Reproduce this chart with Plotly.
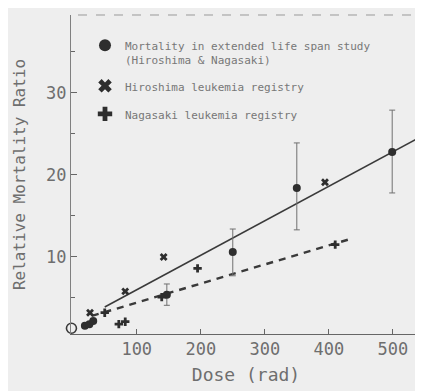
import plotly.graph_objects as go

# ---- data ----
mort_dose = [19, 26, 32, 147, 250, 350, 499]
mort_ratio = [1.6, 1.8, 2.2, 5.4, 10.6, 18.4, 22.8]
mort_err_plus = [0, 0, 0, 1.3, 2.8, 5.5, 5.1]
mort_err_minus = [0, 0, 0, 1.3, 2.9, 5.1, 5.0]

ctrl_dose = [-2]
ctrl_ratio = [1.3]

hiro_dose = [27, 82, 142, 394]
hiro_ratio = [3.2, 5.8, 10.0, 19.1]

naga_dose = [50, 72, 82, 139, 195, 410]
naga_ratio = [3.2, 1.8, 2.1, 5.1, 8.6, 11.5]

solid_dose = [50, 545]
solid_ratio = [3.9, 24.7]

dashed_dose = [30, 430]
dashed_ratio = [2.8, 12.1]

x_ticks = [100, 200, 300, 400, 500]
y_ticks = [10, 20, 30]

ink = "#2e2e2e"
txt = "#6e6e6e"
bg = "#eeeeee"
mono = "DejaVu Sans Mono"

fig = go.Figure()

fig.add_trace(go.Scatter(x=solid_dose, y=solid_ratio, mode="lines",
                         line=dict(color="#3a3a3a", width=1.6), showlegend=False))
fig.add_trace(go.Scatter(x=dashed_dose, y=dashed_ratio, mode="lines",
                         line=dict(color="#3a3a3a", width=2.4, dash="7px,6px"), showlegend=False))

fig.add_trace(go.Scatter(
    x=mort_dose, y=mort_ratio, mode="markers", legendgroup="a",
    name="Mortality in extended life span study<br>(Hiroshima &amp; Nagasaki)",
    marker=dict(symbol="circle", size=8, color=ink),
    error_y=dict(type="data", array=mort_err_plus, arrayminus=mort_err_minus,
                 color="#707070", thickness=1, width=3)))
fig.add_trace(go.Scatter(
    x=hiro_dose, y=hiro_ratio, mode="markers", legendgroup="b",
    name="Hiroshima leukemia registry",
    marker=dict(symbol="x", size=7, color=ink, line=dict(width=0))))
fig.add_trace(go.Scatter(
    x=naga_dose, y=naga_ratio, mode="markers", legendgroup="c",
    name="Nagasaki leukemia registry",
    marker=dict(symbol="cross", size=7, color=ink, line=dict(width=0))))
fig.add_trace(go.Scatter(
    x=ctrl_dose, y=ctrl_ratio, mode="markers", showlegend=False, cliponaxis=False,
    marker=dict(symbol="circle-open", size=10, color="#3a3a3a", line=dict(width=1.6))))

# page body has an 8px margin: shrink figure so plot area lands where the reference has it
fig.update_layout(
    width=415, height=383,
    margin=dict(l=63, r=2, t=7, b=57),
    paper_bgcolor=bg, plot_bgcolor=bg,
    font=dict(family=mono, color=txt),
    legend=dict(x=0.04, y=0.948, xanchor="left", yanchor="top",
                bgcolor="rgba(0,0,0,0)", font=dict(family=mono, size=11, color="#777777"),
                valign="top", itemsizing="constant", tracegroupgap=9),
    xaxis=dict(range=[-2.7, 544], tickvals=x_ticks, ticktext=[str(v) for v in x_ticks],
               ticks="inside", ticklen=5, tickcolor="#666666", showgrid=False, zeroline=False,
               showline=True, linecolor="#666666", linewidth=1, mirror=False,
               tickfont=dict(family=mono, size=17, color=txt),
               title=dict(text="Dose (rad)", font=dict(family=mono, size=18, color=txt), standoff=9)),
    yaxis=dict(range=[0.6, 39.5], tickvals=y_ticks, ticktext=[str(v) for v in y_ticks],
               ticks="inside", ticklen=6, tickcolor="#666666", showgrid=False, zeroline=False,
               showline=True, linecolor="#808080", linewidth=1, mirror="allticks",
               minor=dict(tickvals=[5, 15, 25, 35], ticks="inside", ticklen=4, tickcolor="#666666"),
               tickfont=dict(family=mono, size=17, color=txt),
               title=dict(text="Relative Mortality Ratio", font=dict(family=mono, size=16, color=txt), standoff=16)),
    shapes=[dict(type="line", xref="paper", yref="paper", x0=0.02, x1=1, y0=1, y1=1,
                 line=dict(color="#999999", width=1, dash="dash"))],
)

fig.write_html("out.html")
